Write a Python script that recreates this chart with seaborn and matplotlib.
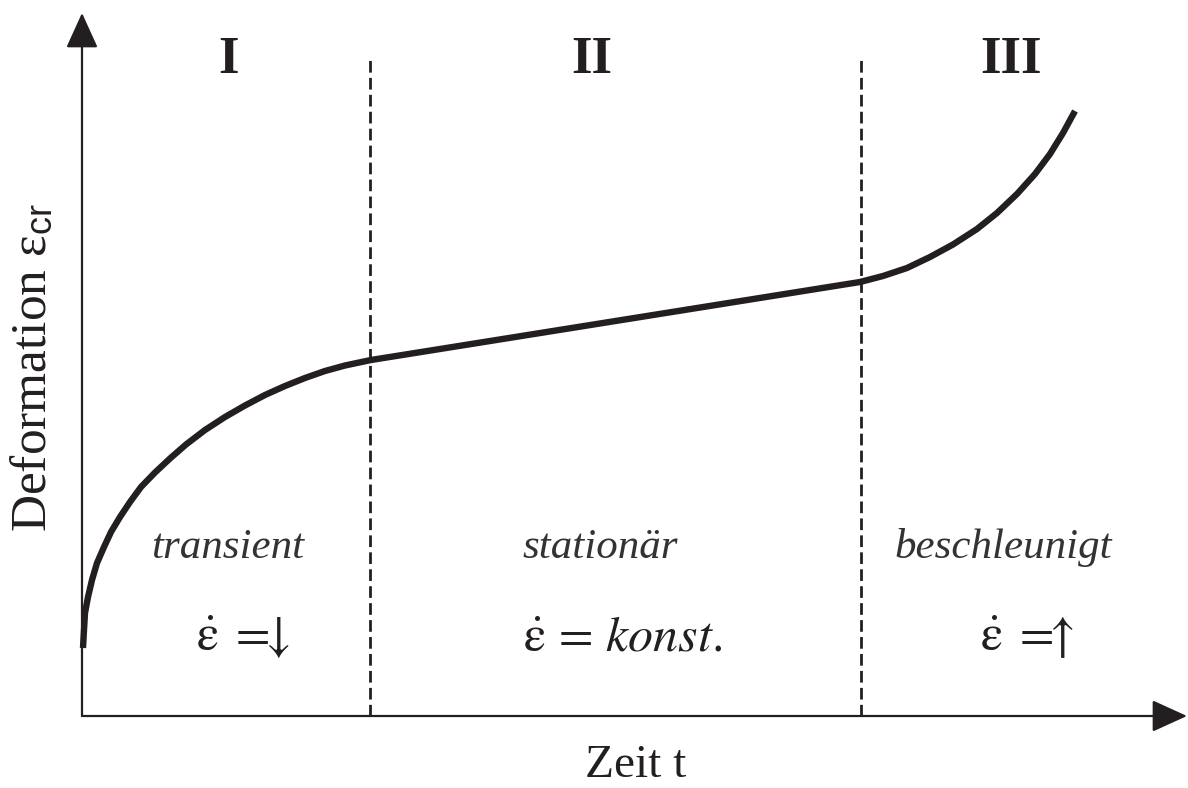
import matplotlib
matplotlib.use("Agg")
import matplotlib.pyplot as plt
import seaborn as sns
import pandas as pd

# ---- data (schematic creep curve, arbitrary units) ----
time_t = [0.01, 0.02, 0.03, 0.06, 0.10, 0.15, 0.22, 0.29, 0.38, 0.48, 0.59, 0.73,
          0.88, 1.04, 1.23, 1.43, 1.63, 1.83, 2.03, 2.23, 2.43, 2.63, 2.89,
          7.78, 8.01, 8.25, 8.48, 8.71, 8.95, 9.15, 9.35, 9.53, 9.68, 9.81, 9.93]
strain = [0.68, 0.86, 1.03, 1.19, 1.36, 1.53, 1.69, 1.84, 1.99, 2.14, 2.29, 2.435,
          2.575, 2.715, 2.86, 2.99, 3.105, 3.21, 3.30, 3.38, 3.45, 3.505, 3.56,
          4.34, 4.40, 4.48, 4.59, 4.715, 4.87, 5.03, 5.22, 5.42, 5.62, 5.83, 6.05]
stage_bounds = [2.88, 7.79]
stage_names = ["I", "II", "III"]
stage_x = [1.47, 5.10, 9.29]
regime_names = ["transient", "stationär", "beschleunigt"]
regime_x = [1.46, 5.18, 9.21]
rate_texts = [r"$\dot{\mathrm{\varepsilon}}\;{=}\!\!\!\downarrow$",
              r"$\dot{\mathrm{\varepsilon}}\,=\,\mathit{konst.}$",
              r"$\dot{\mathrm{\varepsilon}}\;{=}\!\!\!\uparrow$"]
rate_x = [1.61, 5.41, 9.45]
x_label = "Zeit t"
y_label = r"Deformation $\mathrm{\varepsilon}_{\mathsf{cr}}$"

df = pd.DataFrame({"t": time_t, "eps": strain})

sns.set_theme(style="white")
plt.rcParams["font.family"] = ["Liberation Serif", "DejaVu Serif"]
plt.rcParams["mathtext.fontset"] = "custom"
plt.rcParams["mathtext.rm"] = "Liberation Serif"
plt.rcParams["mathtext.it"] = "Liberation Serif:italic"
plt.rcParams["mathtext.bf"] = "Liberation Serif:bold"
plt.rcParams["mathtext.sf"] = "Liberation Sans"
plt.rcParams["mathtext.fallback"] = "stix"

ink = "#231f20"
fig = plt.figure(figsize=(11.88, 7.88), dpi=100)
ax = fig.add_axes([0, 0, 1, 1])
ax.set_xlim(-0.82, 11.06)
ax.set_ylim(-0.72, 7.16)
ax.axis("off")

# axes with arrows
for tip in [(11.05, 0), (0, 7.03)]:
    ax.annotate("", xy=tip, xytext=(0, 0),
                arrowprops=dict(arrowstyle="-|>,head_length=1.1,head_width=0.5",
                                mutation_scale=20, lw=1.6, color=ink,
                                shrinkA=0, shrinkB=0))

# stage boundaries
for xb in stage_bounds:
    ax.plot([xb, xb], [0, 6.59], color=ink, lw=2.0, linestyle=(0, (4.2, 1.9)))

# creep curve
sns.lineplot(data=df, x="t", y="eps", sort=False, estimator=None, ax=ax,
             color=ink, lw=4.6, solid_joinstyle="round", solid_capstyle="butt")
ax.axis("off")

for x, s in zip(stage_x, stage_names):
    ax.text(x, 6.43, s, ha="center", va="baseline", fontsize=38,
            fontweight="bold", color=ink)
for x, s in zip(regime_x, regime_names):
    ax.text(x, 1.58, s, ha="center", va="baseline", fontsize=31,
            fontstyle="italic", color="#333333")
for x, s in zip(rate_x, rate_texts):
    ax.text(x, 0.65, s, ha="center", va="baseline", fontsize=36, color=ink,
            math_fontfamily="stix")

ax.text(5.54, -0.61, x_label, ha="center", va="baseline", fontsize=34, color=ink)
ax.text(-0.48, 3.48, y_label, ha="center", va="center", rotation=90,
        fontsize=37, color=ink)

fig.savefig("out.png", dpi=100)
